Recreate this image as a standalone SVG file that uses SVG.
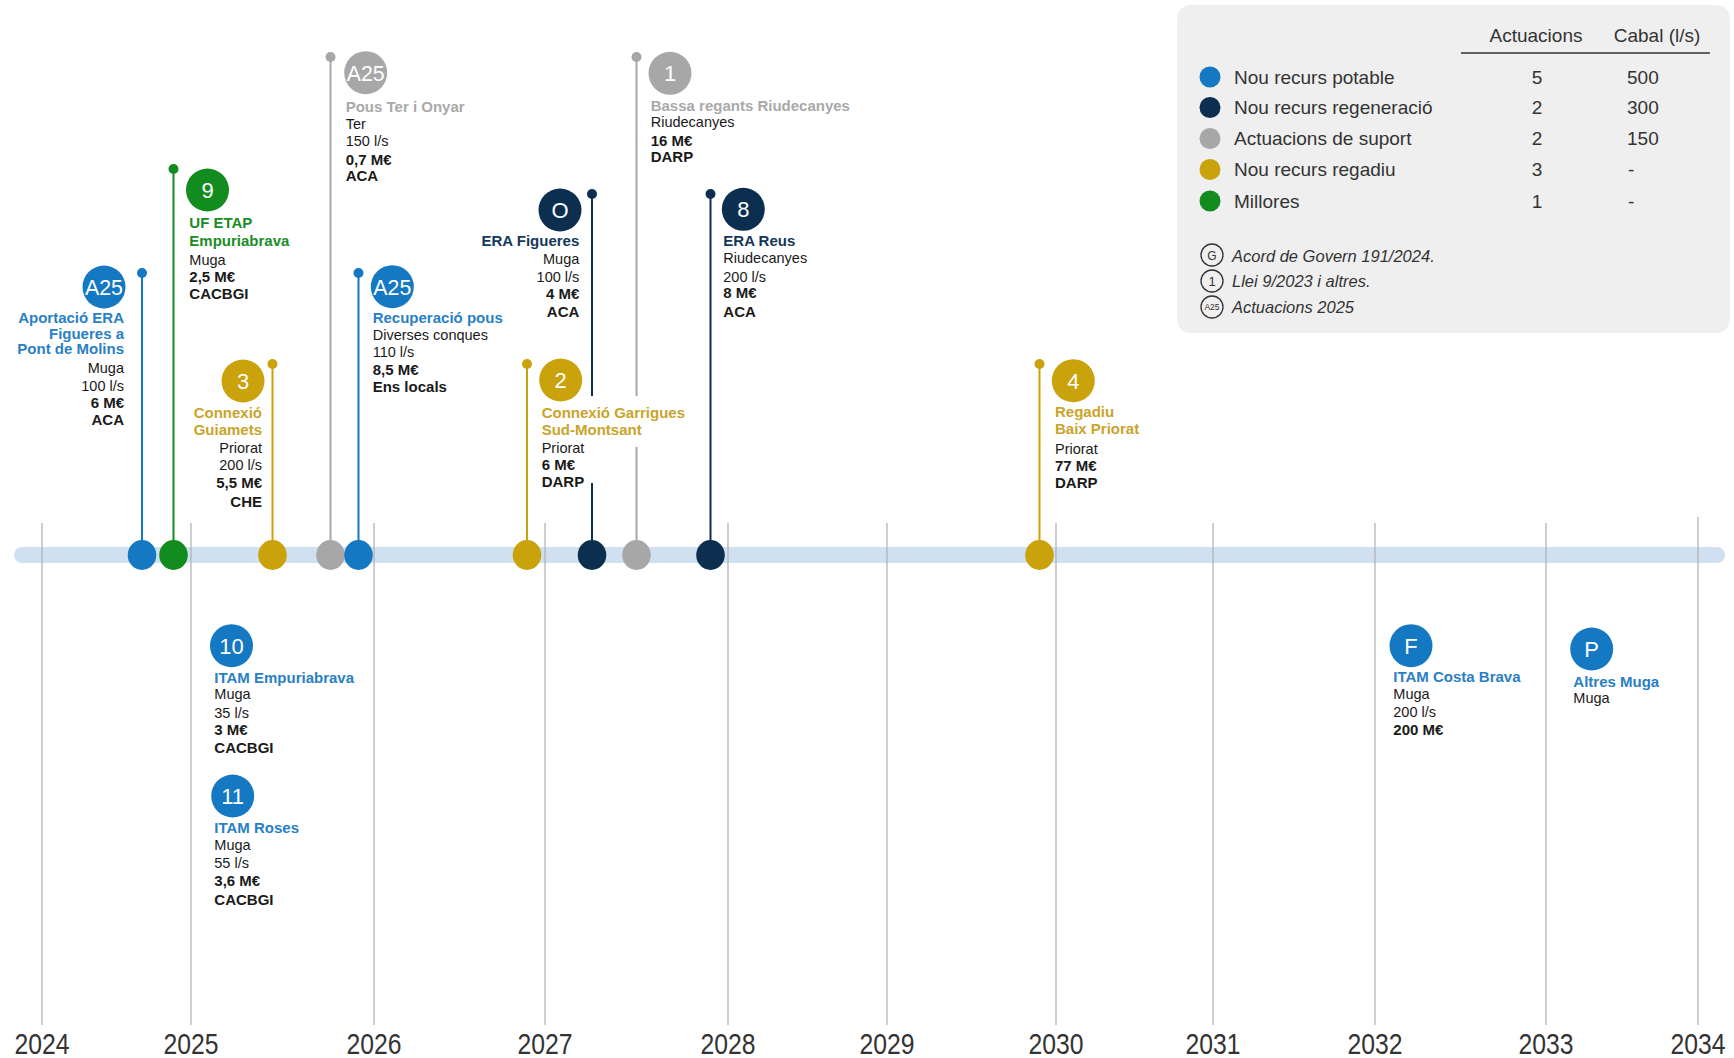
<svg xmlns="http://www.w3.org/2000/svg" width="1734" height="1058" viewBox="0 0 1734 1058">
<style>
text{font-family:"Liberation Sans",Arial,Helvetica,sans-serif}
.t{font-size:15px;font-weight:bold}
.b{font-size:14.5px;fill:#1a1a1a}
.bb{font-size:15px;font-weight:bold;fill:#1a1a1a}
.r{text-anchor:end}
.bn{font-size:22px;fill:#fff;text-anchor:middle}
.yr{font-size:30px;fill:#333;text-anchor:middle}
.lg{font-size:19px;fill:#333}
.lc{font-size:19px;fill:#333;text-anchor:middle}
.fn{font-size:16.5px;font-style:italic;fill:#333}
.grid{stroke:#b4b4b4;stroke-width:1.3}
.cb{fill:#1478c2}.sb{stroke:#1478c2}.tb{fill:#2a80c4}
.cn{fill:#0d2f4f}.sn{stroke:#0d2f4f}.tn{fill:#14385a}
.cg{fill:#a7a7a7}.sg{stroke:#a7a7a7}.tg{fill:#a9a9a9}
.cy{fill:#c9a20c}.sy{stroke:#c9a20c}.ty{fill:#c9a42a}
.cv{fill:#128c1f}.sv{stroke:#128c1f}.tv{fill:#1a8d27}
.stem{stroke-width:2;fill:none}
</style>

<!-- timeline band and year grid -->
<g id="timeline">
  <line x1="22" y1="555" x2="1717" y2="555" stroke="#cfe1f1" stroke-width="16" stroke-linecap="round"/>
  <g class="grid">
    <line x1="42" y1="523" x2="42" y2="1025"/>
    <line x1="191" y1="523" x2="191" y2="1025"/>
    <line x1="374" y1="523" x2="374" y2="1025"/>
    <line x1="545" y1="523" x2="545" y2="1025"/>
    <line x1="728" y1="523" x2="728" y2="1025"/>
    <line x1="887" y1="523" x2="887" y2="1025"/>
    <line x1="1056" y1="523" x2="1056" y2="1025"/>
    <line x1="1213" y1="523" x2="1213" y2="1025"/>
    <line x1="1375" y1="523" x2="1375" y2="1025"/>
    <line x1="1546" y1="523" x2="1546" y2="1025"/>
    <line x1="1698" y1="517" x2="1698" y2="1025"/>
  </g>
  <text class="yr" x="42" y="1054" textLength="55" lengthAdjust="spacingAndGlyphs">2024</text>
  <text class="yr" x="191" y="1054" textLength="55" lengthAdjust="spacingAndGlyphs">2025</text>
  <text class="yr" x="374" y="1054" textLength="55" lengthAdjust="spacingAndGlyphs">2026</text>
  <text class="yr" x="545" y="1054" textLength="55" lengthAdjust="spacingAndGlyphs">2027</text>
  <text class="yr" x="728" y="1054" textLength="55" lengthAdjust="spacingAndGlyphs">2028</text>
  <text class="yr" x="887" y="1054" textLength="55" lengthAdjust="spacingAndGlyphs">2029</text>
  <text class="yr" x="1056" y="1054" textLength="55" lengthAdjust="spacingAndGlyphs">2030</text>
  <text class="yr" x="1213" y="1054" textLength="55" lengthAdjust="spacingAndGlyphs">2031</text>
  <text class="yr" x="1375" y="1054" textLength="55" lengthAdjust="spacingAndGlyphs">2032</text>
  <text class="yr" x="1546" y="1054" textLength="55" lengthAdjust="spacingAndGlyphs">2033</text>
  <text class="yr" x="1698" y="1054" textLength="55" lengthAdjust="spacingAndGlyphs">2034</text>
</g>

<!-- connectors: stems from timeline to labels -->
<g id="connectors">
  <line class="stem sb" x1="142" y1="273" x2="142" y2="555"/><circle class="cb" cx="142" cy="273" r="5"/>
  <line class="stem sv" x1="173.5" y1="169" x2="173.5" y2="555"/><circle class="cv" cx="173.5" cy="169" r="5"/>
  <line class="stem sy" x1="272.5" y1="364" x2="272.5" y2="555"/><circle class="cy" cx="272.5" cy="364" r="5"/>
  <line class="stem sg" x1="330.5" y1="57" x2="330.5" y2="555"/><circle class="cg" cx="330.5" cy="57" r="5"/>
  <line class="stem sb" x1="358.5" y1="273" x2="358.5" y2="555"/><circle class="cb" cx="358.5" cy="273" r="5"/>
  <line class="stem sy" x1="527" y1="364" x2="527" y2="555"/><circle class="cy" cx="527" cy="364" r="5"/>
  <line class="stem sn" x1="592" y1="194" x2="592" y2="396"/><line class="stem sn" x1="592" y1="483" x2="592" y2="555"/><circle class="cn" cx="592" cy="194" r="5"/>
  <line class="stem sg" x1="636.5" y1="57" x2="636.5" y2="396"/><line class="stem sg" x1="636.5" y1="447" x2="636.5" y2="555"/><circle class="cg" cx="636.5" cy="57" r="5"/>
  <line class="stem sn" x1="710.5" y1="194" x2="710.5" y2="555"/><circle class="cn" cx="710.5" cy="194" r="5"/>
  <line class="stem sy" x1="1039.5" y1="364" x2="1039.5" y2="555"/><circle class="cy" cx="1039.5" cy="364" r="5"/>
</g>

<!-- nodes -->
<g id="n-a25-aportacio">
  <ellipse class="cb" cx="142" cy="555" rx="14.3" ry="15"/>
  <circle class="cb" cx="104" cy="287" r="21.5"/>
  <text class="bn" x="104" y="295" textLength="38" lengthAdjust="spacingAndGlyphs">A25</text>
  <text class="t tb r" x="124" y="322.7">Aportació ERA</text>
  <text class="t tb r" x="124" y="338.5">Figueres a</text>
  <text class="t tb r" x="124" y="354">Pont de Molins</text>
  <text class="b r" x="124" y="373">Muga</text>
  <text class="b r" x="124" y="391">100 l/s</text>
  <text class="bb r" x="124" y="408">6 M€</text>
  <text class="bb r" x="124" y="425">ACA</text>
</g>

<g id="n-9">
  <ellipse class="cv" cx="173.5" cy="555" rx="14.3" ry="15"/>
  <circle class="cv" cx="207.5" cy="190" r="21.5"/>
  <text class="bn" x="207.5" y="198">9</text>
  <text class="t tv" x="189.3" y="228">UF ETAP</text>
  <text class="t tv" x="189.3" y="246">Empuriabrava</text>
  <text class="b" x="189.3" y="265">Muga</text>
  <text class="bb" x="189.3" y="282">2,5 M€</text>
  <text class="bb" x="189.3" y="299">CACBGI</text>
</g>

<g id="n-3">
  <ellipse class="cy" cx="272.5" cy="555" rx="14.3" ry="15"/>
  <circle class="cy" cx="243" cy="381" r="21.5"/>
  <text class="bn" x="243" y="389">3</text>
  <text class="t ty r" x="262" y="418">Connexió</text>
  <text class="t ty r" x="262" y="435">Guiamets</text>
  <text class="b r" x="262" y="453">Priorat</text>
  <text class="b r" x="262" y="470">200 l/s</text>
  <text class="bb r" x="262" y="488">5,5 M€</text>
  <text class="bb r" x="262" y="507">CHE</text>
</g>

<g id="n-a25-pous">
  <ellipse class="cg" cx="330.5" cy="555" rx="14.3" ry="15"/>
  <circle class="cg" cx="365.7" cy="72.7" r="21.5"/>
  <text class="bn" x="365.7" y="80.7" textLength="38" lengthAdjust="spacingAndGlyphs">A25</text>
  <text class="t tg" x="345.7" y="111.7">Pous Ter i Onyar</text>
  <text class="b" x="345.7" y="129">Ter</text>
  <text class="b" x="345.7" y="146">150 l/s</text>
  <text class="bb" x="345.7" y="165">0,7 M€</text>
  <text class="bb" x="345.7" y="181">ACA</text>
</g>

<g id="n-a25-recuperacio">
  <ellipse class="cb" cx="358.5" cy="555" rx="14.3" ry="15"/>
  <circle class="cb" cx="392.3" cy="286.7" r="21.5"/>
  <text class="bn" x="392.3" y="294.7" textLength="38" lengthAdjust="spacingAndGlyphs">A25</text>
  <text class="t tb" x="372.7" y="322.7">Recuperació pous</text>
  <text class="b" x="372.7" y="340">Diverses conques</text>
  <text class="b" x="372.7" y="356.7">110 l/s</text>
  <text class="bb" x="372.7" y="375">8,5 M€</text>
  <text class="bb" x="372.7" y="391.7">Ens locals</text>
</g>

<g id="n-o">
  <ellipse class="cn" cx="592" cy="555" rx="14.3" ry="15"/>
  <circle class="cn" cx="560" cy="210" r="21.5"/>
  <text class="bn" x="560" y="218">O</text>
  <text class="t tn r" x="579.3" y="246">ERA Figueres</text>
  <text class="b r" x="579.3" y="264">Muga</text>
  <text class="b r" x="579.3" y="281.7">100 l/s</text>
  <text class="bb r" x="579.3" y="299.3">4 M€</text>
  <text class="bb r" x="579.3" y="316.7">ACA</text>
</g>

<g id="n-2">
  <ellipse class="cy" cx="527" cy="555" rx="14.3" ry="15"/>
  <circle class="cy" cx="560.7" cy="380" r="21.5"/>
  <text class="bn" x="560.7" y="388">2</text>
  <text class="t ty" x="541.7" y="417.7">Connexió Garrigues</text>
  <text class="t ty" x="541.7" y="435">Sud-Montsant</text>
  <text class="b" x="541.7" y="453">Priorat</text>
  <text class="bb" x="541.7" y="470">6 M€</text>
  <text class="bb" x="541.7" y="486.7">DARP</text>
</g>

<g id="n-1">
  <ellipse class="cg" cx="636.5" cy="555" rx="14.3" ry="15"/>
  <circle class="cg" cx="670" cy="73.3" r="21.5"/>
  <text class="bn" x="670" y="81.3">1</text>
  <text class="t tg" x="650.7" y="110.7">Bassa regants Riudecanyes</text>
  <text class="b" x="650.7" y="127.3">Riudecanyes</text>
  <text class="bb" x="650.7" y="146">16 M€</text>
  <text class="bb" x="650.7" y="161.7">DARP</text>
</g>

<g id="n-8">
  <ellipse class="cn" cx="710.5" cy="555" rx="14.3" ry="15"/>
  <circle class="cn" cx="743.3" cy="209.3" r="21.5"/>
  <text class="bn" x="743.3" y="217.3">8</text>
  <text class="t tn" x="723.3" y="246">ERA Reus</text>
  <text class="b" x="723.3" y="263.3">Riudecanyes</text>
  <text class="b" x="723.3" y="281.7">200 l/s</text>
  <text class="bb" x="723.3" y="298.3">8 M€</text>
  <text class="bb" x="723.3" y="316.7">ACA</text>
</g>

<g id="n-4">
  <ellipse class="cy" cx="1039.5" cy="555" rx="14.3" ry="15"/>
  <circle class="cy" cx="1073.3" cy="380.7" r="21.5"/>
  <text class="bn" x="1073.3" y="388.7">4</text>
  <text class="t ty" x="1055" y="417.3">Regadiu</text>
  <text class="t ty" x="1055" y="434.3">Baix Priorat</text>
  <text class="b" x="1055" y="454">Priorat</text>
  <text class="bb" x="1055" y="470.7">77 M€</text>
  <text class="bb" x="1055" y="488.3">DARP</text>
</g>

<g id="n-10">
  <circle class="cb" cx="231.5" cy="645.7" r="21.5"/>
  <text class="bn" x="231.5" y="653.7">10</text>
  <text class="t tb" x="214.3" y="682.7">ITAM Empuriabrava</text>
  <text class="b" x="214.3" y="699.3">Muga</text>
  <text class="b" x="214.3" y="718.3">35 l/s</text>
  <text class="bb" x="214.3" y="735">3 M€</text>
  <text class="bb" x="214.3" y="753.3">CACBGI</text>
</g>

<g id="n-11">
  <circle class="cb" cx="232.7" cy="796" r="21.5"/>
  <text class="bn" x="232.7" y="804">11</text>
  <text class="t tb" x="214.3" y="833.3">ITAM Roses</text>
  <text class="b" x="214.3" y="850">Muga</text>
  <text class="b" x="214.3" y="868.3">55 l/s</text>
  <text class="bb" x="214.3" y="886">3,6 M€</text>
  <text class="bb" x="214.3" y="905">CACBGI</text>
</g>

<g id="n-f">
  <circle class="cb" cx="1411" cy="645.7" r="21.5"/>
  <text class="bn" x="1411" y="653.7">F</text>
  <text class="t tb" x="1393.3" y="682.3">ITAM Costa Brava</text>
  <text class="b" x="1393.3" y="699.3">Muga</text>
  <text class="b" x="1393.3" y="717.3">200 l/s</text>
  <text class="bb" x="1393.3" y="735">200 M€</text>
</g>

<g id="n-p">
  <circle class="cb" cx="1591.7" cy="649" r="21.5"/>
  <text class="bn" x="1591.7" y="657">P</text>
  <text class="t tb" x="1573.3" y="686.7">Altres Muga</text>
  <text class="b" x="1573.3" y="703.3">Muga</text>
</g>

<!-- legend -->
<g id="legend">
  <rect x="1177" y="5" width="553" height="328" rx="14" fill="#efefef"/>
  <text class="lc" x="1536" y="42">Actuacions</text>
  <text class="lc" x="1657" y="42">Cabal (l/s)</text>
  <line x1="1461" y1="53" x2="1710" y2="53" stroke="#333" stroke-width="1.6"/>
  <circle class="cb" cx="1210" cy="77" r="10.5"/>
  <circle class="cn" cx="1210" cy="107.5" r="10.5"/>
  <circle class="cg" cx="1210" cy="138.5" r="10.5"/>
  <circle class="cy" cx="1210" cy="169.5" r="10.5"/>
  <circle class="cv" cx="1210" cy="201" r="10.5"/>
  <text class="lg" x="1234" y="83.5">Nou recurs potable</text>
  <text class="lg" x="1234" y="114">Nou recurs regeneració</text>
  <text class="lg" x="1234" y="145">Actuacions de suport</text>
  <text class="lg" x="1234" y="176">Nou recurs regadiu</text>
  <text class="lg" x="1234" y="207.5">Millores</text>
  <text class="lc" x="1537" y="83.5">5</text>
  <text class="lc" x="1537" y="114">2</text>
  <text class="lc" x="1537" y="145">2</text>
  <text class="lc" x="1537" y="176">3</text>
  <text class="lc" x="1537" y="207.5">1</text>
  <text class="lg" x="1627" y="83.5">500</text>
  <text class="lg" x="1627" y="114">300</text>
  <text class="lg" x="1627" y="145">150</text>
  <text class="lg" x="1628" y="176">-</text>
  <text class="lg" x="1628" y="207.5">-</text>
  <g fill="none" stroke="#333" stroke-width="1.3">
    <circle cx="1212" cy="255" r="11"/>
    <circle cx="1212" cy="281" r="11"/>
    <circle cx="1212" cy="307" r="11"/>
  </g>
  <text x="1212" y="259.5" font-size="12" fill="#333" text-anchor="middle">G</text>
  <text x="1212" y="285.5" font-size="13" fill="#333" text-anchor="middle">1</text>
  <text x="1212" y="310" font-size="8.5" fill="#333" text-anchor="middle">A25</text>
  <text class="fn" x="1232" y="261.5">Acord de Govern 191/2024.</text>
  <text class="fn" x="1232" y="287">Llei 9/2023 i altres.</text>
  <text class="fn" x="1232" y="313">Actuacions 2025</text>
</g>
</svg>
